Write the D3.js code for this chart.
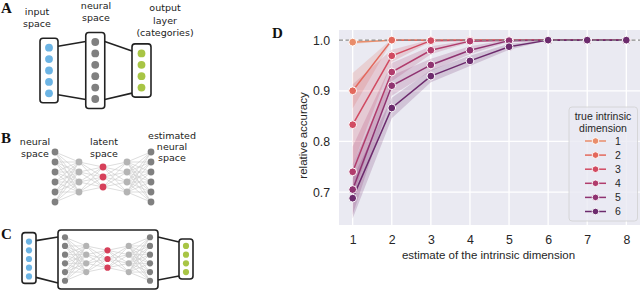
<!DOCTYPE html>
<meta charset="utf-8">
<style>
  body { margin: 0; background: #fff; }
  svg { display: block; }
</style>
<div id="container"></div>
<script src="https://cdn.jsdelivr.net/npm/d3@7"></script>
<script>

// ---- data for panel D ----
const estDims = [1, 2, 3, 4, 5, 6, 7, 8];
const trueDims = [1, 2, 3, 4, 5, 6];
const acc1 = [0.996, 1.000, 1.000, 1.000, 1.000, 1.000, 1.000, 1.000];
const acc2 = [0.900, 1.000, 1.000, 1.000, 1.000, 1.000, 1.000, 1.000];
const acc3 = [0.833, 0.969, 0.999, 1.000, 1.000, 1.000, 1.000, 1.000];
const acc4 = [0.740, 0.937, 0.980, 0.998, 1.000, 1.000, 1.000, 1.000];
const acc5 = [0.705, 0.910, 0.951, 0.980, 0.999, 1.000, 1.000, 1.000];
const acc6 = [0.688, 0.866, 0.929, 0.959, 0.987, 1.000, 1.000, 1.000];
// spread of the shaded bands
const sd1 = [0.004, 0, 0, 0, 0, 0, 0, 0];
const sd2 = [0.035, 0.002, 0, 0, 0, 0, 0, 0];
const sd3 = [0.080, 0.012, 0.002, 0, 0, 0, 0, 0];
const sd4 = [0.050, 0.018, 0.008, 0.002, 0, 0, 0, 0];
const sd5 = [0.050, 0.020, 0.012, 0.008, 0.002, 0, 0, 0];
const sd6 = [0.040, 0.020, 0.012, 0.010, 0.006, 0, 0, 0];
const yTicks = [0.7, 0.8, 0.9, 1.0];
const palette = ['#e98d6b', '#e3685c', '#d14a61', '#b13c6c', '#8f3371', '#6c2b6d'];

// ---- data for the network sketches ----
const layersA = [5, 6, 4];
const layersB = [6, 4, 3, 4, 6];
const layersC = [6, 4, 3, 4, 6];
const inC = 5, outC = 4;

const accs = [acc1, acc2, acc3, acc4, acc5, acc6];
const sds = [sd1, sd2, sd3, sd4, sd5, sd6];

const W = 640, H = 290;
const svg = d3.select('#container').append('svg')
    .attr('width', W).attr('height', H);

const serif = 'Liberation Serif, DejaVu Serif, serif';
const sans = 'Liberation Sans, Arial, sans-serif';
const dv = 'DejaVu Sans, sans-serif';

const BLUE = '#6cb4e4', DARK = '#808080', LIGHT = '#b4b4b4', RED = '#d6405a', GREEN = '#a8c545';

function letter(t, x, y) {
  svg.append('text').attr('x', x).attr('y', y).text(t)
    .attr('font-family', serif).attr('font-weight', 'bold').attr('font-size', 15).attr('fill', '#111');
}
function label(lines, cx, y0, dy) {
  lines.forEach((l, i) => svg.append('text').attr('x', cx).attr('y', y0 + i * dy)
    .attr('text-anchor', 'middle').attr('font-family', dv).attr('font-size', 9.5)
    .attr('fill', '#222').text(l));
}
function dotsY(n, cy, step) {
  return d3.range(n).map(i => cy + (i - (n - 1) / 2) * step);
}
function box(x0, y0, x1, y1) {
  svg.append('rect').attr('x', x0).attr('y', y0).attr('width', x1 - x0).attr('height', y1 - y0)
    .attr('rx', 3).attr('fill', 'none').attr('stroke', '#222').attr('stroke-width', 1.6);
}
function line(x1, y1, x2, y2) {
  svg.append('line').attr('x1', x1).attr('y1', y1).attr('x2', x2).attr('y2', y2)
    .attr('stroke', '#222').attr('stroke-width', 1.6);
}
function dots(x, ys, r, color) {
  svg.append('g').selectAll('circle').data(ys).join('circle')
    .attr('cx', x).attr('cy', d => d).attr('r', r).attr('fill', color);
}
// fully connected network, returns layer x positions
function network(sizes, x0, x1, cy, step, r) {
  const xs = d3.scalePoint().domain(d3.range(sizes.length)).range([x0, x1]);
  const mid = Math.floor(sizes.length / 2);
  const g = svg.append('g');
  for (let l = 0; l < sizes.length - 1; l++) {
    const a = dotsY(sizes[l], cy, step), b = dotsY(sizes[l + 1], cy, step);
    a.forEach(ya => b.forEach(yb => g.append('line')
      .attr('x1', xs(l)).attr('y1', ya).attr('x2', xs(l + 1)).attr('y2', yb)
      .attr('stroke', '#cfcfcf').attr('stroke-width', 0.7)));
  }
  sizes.forEach((n, l) => {
    const c = l === mid ? RED : (l === 0 || l === sizes.length - 1 ? DARK : LIGHT);
    dots(xs(l), dotsY(n, cy, step), r, c);
  });
  return xs;
}

// ---- panel A ----
letter('A', 1, 13);
label(['input', 'space'], 37, 15, 12);
label(['neural', 'space'], 96, 9, 12);
label(['output', 'layer', '(categories)'], 165, 11, 12.5);
{
  const cy = 70.5, step = 11.4;
  const xA = d3.scalePoint().domain(d3.range(3)).range([49, 141.5]);
  const cols = [BLUE, DARK, GREEN];
  const half = [9, 9.5, 9.5];
  const bx = layersA.map((n, i) => {
    const ys = dotsY(n, cy, step);
    return [xA(i) - half[i], ys[0] - 9.5, xA(i) + half[i], ys[n - 1] + 9.5];
  });
  line(bx[0][2], bx[0][1] + 8, bx[1][0], bx[1][1] + 9);
  line(bx[0][2], bx[0][3] - 8, bx[1][0], bx[1][3] - 9);
  line(bx[1][2], bx[1][1] + 9, bx[2][0], bx[2][1] + 7);
  line(bx[1][2], bx[1][3] - 9, bx[2][0], bx[2][3] - 4);
  bx.forEach(b => box(...b));
  layersA.forEach((n, i) => dots(xA(i), dotsY(n, cy, step), 3.9, cols[i]));
}

// ---- panel B ----
letter('B', 1, 143);
label(['neural', 'space'], 35, 145, 11.5);
label(['latent', 'space'], 104, 145, 11.5);
label(['estimated', 'neural', 'space'], 172, 139, 11);
network(layersB, 55, 151, 177, 10, 3.4);

// ---- panel C ----
letter('C', 1, 239);
{
  const cy = 259, step = 8.7;
  network(layersC, 65, 150, cy, step, 3.1);
  const yi = dotsY(inC, cy, step), yo = dotsY(outC, cy, step);
  const big = [58, 230, 158, 289];
  const ib = [22, yi[0] - 9, 36, yi[inC - 1] + 7];
  const ob = [179, yo[0] - 7, 193, yo[outC - 1] + 7];
  line(ib[2], ib[1] + 8, big[0], big[1] + 7);
  line(ib[2], ib[3] - 6, big[0], big[3] - 6);
  line(big[2], big[1] + 7, ob[0], ob[1] + 3);
  line(big[2], big[3] - 9, ob[0], ob[3] - 3);
  [ib, big, ob].forEach(b => box(...b));
  dots(29, yi, 3.1, BLUE);
  dots(186, yo, 3.1, GREEN);
}

// ---- panel D ----
letter('D', 272, 38);
const pL = 339, pR = 640, pT = 30, pB = 225;
const x = d3.scaleLinear().domain([0.65, 8.35]).range([pL, pR]);
const y = d3.scaleLinear().domain([0.635, 1.02]).range([pB, pT]);

const gD = svg.append('g');
gD.append('rect').attr('x', pL).attr('y', pT).attr('width', pR - pL).attr('height', pB - pT)
  .attr('fill', '#eaeaf2');
gD.append('g').selectAll('line').data(estDims).join('line')
  .attr('x1', d => x(d)).attr('x2', d => x(d)).attr('y1', pT).attr('y2', pB)
  .attr('stroke', '#fff').attr('stroke-width', 1.3);
gD.append('g').selectAll('line').data(yTicks).join('line')
  .attr('y1', d => y(d)).attr('y2', d => y(d)).attr('x1', pL).attr('x2', pR)
  .attr('stroke', '#fff').attr('stroke-width', 1.3);

const xAxis = gD.append('g').attr('transform', `translate(0,${pB})`)
  .call(d3.axisBottom(x).tickValues(estDims).tickSize(0).tickPadding(10).tickFormat(d3.format('d')));
const yAxis = gD.append('g').attr('transform', `translate(${pL},0)`)
  .call(d3.axisLeft(y).tickValues(yTicks).tickSize(0).tickPadding(9).tickFormat(d3.format('.1f')));
[xAxis, yAxis].forEach(a => {
  a.select('.domain').remove();
  a.selectAll('text').attr('font-family', sans).attr('font-size', 12.3).attr('fill', '#262626');
});

gD.append('text').attr('x', (pL + pR) / 2 - 1).attr('y', 259).attr('text-anchor', 'middle')
  .attr('font-family', sans).attr('font-size', 11.5).attr('fill', '#262626')
  .text('estimate of the intrinsic dimension');
gD.append('text').attr('transform', `translate(307,${(pT + pB) / 2 + 8}) rotate(-90)`)
  .attr('text-anchor', 'middle')
  .attr('font-family', sans).attr('font-size', 11.5).attr('fill', '#262626')
  .text('relative accuracy');

const area = d3.area().x(d => x(d.x)).y0(d => y(d.v - d.s)).y1(d => y(Math.min(d.v + d.s, 1.003)));
const ln = d3.line().x(d => x(d.x)).y(d => y(d.v));
const series = trueDims.map((k, i) => ({
  k, color: palette[i],
  pts: estDims.map((e, j) => ({ x: e, v: accs[i][j], s: sds[i][j] }))
}));

gD.append('g').selectAll('path').data(series).join('path')
  .attr('d', d => area(d.pts)).attr('fill', d => d.color).attr('fill-opacity', 0.2);
gD.append('g').selectAll('path').data(series).join('path')
  .attr('d', d => ln(d.pts)).attr('fill', 'none').attr('stroke', d => d.color).attr('stroke-width', 1.5);
gD.append('line').attr('x1', pL).attr('x2', pR).attr('y1', y(1)).attr('y2', y(1))
  .attr('stroke', '#8a8a8a').attr('stroke-width', 1.2).attr('stroke-dasharray', '4,2.5');
series.forEach(s => {
  gD.append('g').selectAll('circle').data(s.pts).join('circle')
    .attr('cx', d => x(d.x)).attr('cy', d => y(d.v)).attr('r', 3.9)
    .attr('fill', s.color).attr('stroke', '#fff').attr('stroke-width', 1);
});

// legend
const lg = gD.append('g');
lg.append('rect').attr('x', 569).attr('y', 107).attr('width', 68.5).attr('height', 114).attr('rx', 3)
  .attr('fill', '#eaeaf2').attr('fill-opacity', 0.8).attr('stroke', '#d0d0d0').attr('stroke-width', 0.8);
['true intrinsic', 'dimension'].forEach((t, i) => lg.append('text')
  .attr('x', 603).attr('y', 120 + i * 11.5).attr('text-anchor', 'middle')
  .attr('font-family', sans).attr('font-size', 10.5).attr('fill', '#262626').text(t));
const ly = d3.scalePoint().domain(trueDims).range([141, 211.5]);
series.forEach(s => {
  const yy = ly(s.k);
  lg.append('line').attr('x1', 585).attr('x2', 606).attr('y1', yy).attr('y2', yy)
    .attr('stroke', s.color).attr('stroke-width', 1.5);
  lg.append('circle').attr('cx', 595.5).attr('cy', yy).attr('r', 3.3)
    .attr('fill', s.color).attr('stroke', '#fff').attr('stroke-width', 0.9);
  lg.append('text').attr('x', 615).attr('y', yy + 3.8)
    .attr('font-family', sans).attr('font-size', 10.5).attr('fill', '#262626').text(s.k);
});

</script>
